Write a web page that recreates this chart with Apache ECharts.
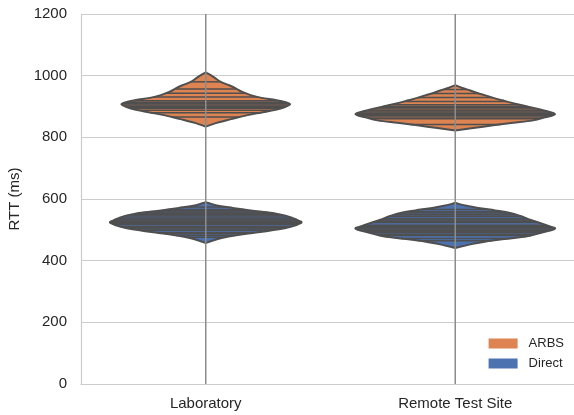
<!DOCTYPE html>
<html>
<head>
<meta charset="utf-8">
<script src="https://cdn.jsdelivr.net/npm/echarts@6/dist/echarts.min.js"></script>
<style>
  html, body { margin: 0; padding: 0; background: #fff; }
  #chart { width: 574px; height: 415px; }
</style>
</head>
<body>
<div id="chart"></div>
<script>
// Sites on the x axis and the two connection types
const sites = ['Laboratory', 'Remote Test Site'];
const hues = ['ARBS', 'Direct'];
const yTicks = [0, 200, 400, 600, 800, 1000, 1200];

// Density outline of each violin: [RTT ms, relative density 0..1]
const labArbsDensity = [
  [1011, 0], [995, 0.08], [980, 0.15], [968, 0.24], [959, 0.30], [948, 0.36],
  [937, 0.45], [928, 0.56], [921, 0.70], [914, 0.80], [907, 0.845], [899, 0.80],
  [889, 0.70], [880, 0.55], [872, 0.42], [863, 0.30], [856, 0.22], [846, 0.10], [835, 0]
];
const labDirectDensity = [
  [590, 0], [580, 0.10], [571, 0.27], [563, 0.45], [555, 0.67], [546, 0.80],
  [538, 0.87], [530, 0.93], [524, 0.96], [515, 0.90], [506, 0.80], [498, 0.65],
  [490, 0.47], [482, 0.30], [474, 0.17], [466, 0.08], [457, 0]
];
const remoteArbsDensity = [
  [969, 0], [960, 0.07], [952, 0.15], [944, 0.22], [936, 0.30], [928, 0.38],
  [920, 0.47], [909, 0.60], [898, 0.75], [886, 0.90], [875, 1.0], [865, 0.90],
  [855, 0.78], [847, 0.58], [839, 0.38], [830, 0.18], [822, 0]
];
const remoteDirectDensity = [
  [587, 0], [579, 0.10], [571, 0.23], [563, 0.40], [555, 0.55], [544, 0.66],
  [533, 0.75], [520, 0.87], [512, 0.94], [504, 1.0], [492, 0.88], [479, 0.72],
  [471, 0.52], [463, 0.32], [452, 0.14], [441, 0]
];

// Individual observations drawn as sticks inside each violin (ms)
const labArbsObs = [980, 957, 943, 931, 919, 914, 909, 905, 901, 897, 894, 888, 880, 866];
const labDirectObs = [574, 566, 562, 558, 554, 549, 545, 538, 535, 532, 528, 524, 520, 517, 511, 507, 503, 499, 491, 487, 482, 476];
const remoteArbsObs = [955, 942, 929, 916, 906, 900, 896, 892, 886, 882, 878, 875, 871, 866, 860, 842];
const remoteDirectObs = [566, 559, 555, 549, 544, 537, 532, 528, 524, 515, 511, 507, 503, 499, 495, 491, 486, 482, 472, 465];

const densities = { ARBS: [labArbsDensity, remoteArbsDensity], Direct: [labDirectDensity, remoteDirectDensity] };
const observations = { ARBS: [labArbsObs, remoteArbsObs], Direct: [labDirectObs, remoteDirectObs] };
const colors = { ARBS: '#dd8452', Direct: '#4c72b0' };
const lineColor = '#4f4f4f';
const font = '"Liberation Sans", Arial, sans-serif';

// Density at a given RTT
function densityAt(profile, v) {
  for (let i = 0; i < profile.length - 1; i++) {
    const a = profile[i], b = profile[i + 1];
    if (v <= a[0] && v >= b[0]) {
      const t = (a[0] - v) / (a[0] - b[0]);
      return a[1] + t * (b[1] - a[1]);
    }
  }
  return 0;
}

function violinRenderer(hue) {
  return function (params, api) {
    const cat = api.value(0);
    const profile = densities[hue][cat];
    const obs = observations[hue][cat];
    const band = api.size([1, 0])[0];
    const maxHalf = band * 0.4;
    const right = [], left = [];
    profile.forEach(function (p) {
      const c = api.coord([cat, p[0]]);
      right.push([c[0] + p[1] * maxHalf, c[1]]);
      left.unshift([c[0] - p[1] * maxHalf, c[1]]);
    });
    const pts = right.concat(left);
    const children = [{
      type: 'polygon',
      shape: { points: pts, smooth: 0.35 },
      style: { fill: colors[hue], stroke: null }
    }];
    obs.forEach(function (v) {
      const c = api.coord([cat, v]);
      const w = densityAt(profile, v) * maxHalf;
      children.push({
        type: 'line',
        shape: { x1: c[0] - w, y1: c[1], x2: c[0] + w, y2: c[1] },
        style: { stroke: lineColor, lineWidth: 1.5 }
      });
    });
    children.push({
      type: 'polygon',
      shape: { points: pts, smooth: 0.35 },
      style: { fill: null, stroke: lineColor, lineWidth: 2 }
    });
    return { type: 'group', children: children };
  };
}

const chart = echarts.init(document.getElementById('chart'), null, { renderer: 'canvas' });
chart.setOption({
  animation: false,
  backgroundColor: '#ffffff',
  textStyle: { fontFamily: font },
  grid: { left: 81, top: 14, width: 499, bottom: 31, containLabel: false, outerBoundsMode: 'none' },
  legend: {
    data: hues,
    orient: 'vertical',
    right: 5,
    top: 332,
    icon: 'rect',
    itemWidth: 29,
    itemHeight: 10,
    itemGap: 7,
    textStyle: { fontSize: 13, color: '#262626', fontFamily: font, padding: [0, 0, 0, 6] }
  },
  xAxis: {
    type: 'category',
    data: sites,
    axisLine: { lineStyle: { color: '#cccccc', width: 1.2 } },
    axisTick: { show: false },
    axisLabel: { fontSize: 15, color: '#262626', margin: 12, fontFamily: font },
    splitLine: { show: false }
  },
  yAxis: {
    type: 'value',
    min: yTicks[0],
    max: yTicks[yTicks.length - 1],
    interval: 200,
    name: 'RTT (ms)',
    nameLocation: 'middle',
    nameRotate: 90,
    nameGap: 49,
    nameTextStyle: { fontSize: 15, color: '#262626', fontFamily: font },
    axisLine: { show: true, lineStyle: { color: '#cccccc', width: 1.2 } },
    axisTick: { show: false },
    axisLabel: {
      fontSize: 15, color: '#262626', margin: 14, fontFamily: font,
      formatter: function (v) { return String(v); }
    },
    splitLine: { lineStyle: { color: '#cccccc', width: 1.2 } }
  },
  series: [
    {
      name: 'ARBS',
      type: 'custom',
      itemStyle: { color: colors.ARBS },
      data: [[0], [1]],
      renderItem: violinRenderer('ARBS'),
      z: 2
    },
    {
      name: 'Direct',
      type: 'custom',
      itemStyle: { color: colors.Direct },
      data: [[0], [1]],
      renderItem: violinRenderer('Direct'),
      z: 2
    },
    {
      name: 'centre',
      type: 'custom',
      silent: true,
      data: [[0], [1]],
      renderItem: function (params, api) {
        const cat = api.value(0);
        const a = api.coord([cat, yTicks[0]]);
        const b = api.coord([cat, yTicks[yTicks.length - 1]]);
        return {
          type: 'line',
          shape: { x1: a[0], y1: a[1], x2: b[0], y2: b[1] },
          style: { stroke: '#8c8c8c', lineWidth: 1.5 }
        };
      },
      z: 5
    }
  ]
});
</script>
</body>
</html>
